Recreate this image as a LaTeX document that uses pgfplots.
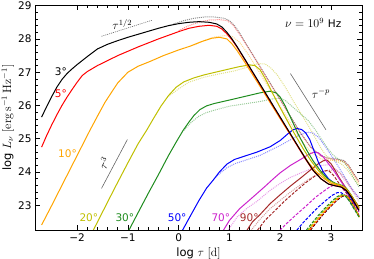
\documentclass[border=0pt]{standalone}
\usepackage[no-math]{fontspec}
\setmainfont{DejaVu Sans}
\usepackage{pgfplots}
\pgfplotsset{compat=1.18}
\definecolor{cBlack}{HTML}{000000}
\definecolor{cRed}{HTML}{FF0000}
\definecolor{cOrange}{HTML}{FFA500}
\definecolor{cYellow}{HTML}{BFBF00}
\definecolor{cGreen}{HTML}{1E8C1E}
\definecolor{cBlue}{HTML}{0000FF}
\definecolor{cMag}{HTML}{CC22CC}
\definecolor{cBrown}{HTML}{A52A2A}
\definecolor{cGray}{HTML}{666666}
\pgfplotsset{
  sol/.style={line width=1pt, #1},
  dot/.style={line width=1pt, #1, opacity=0.45, dash pattern=on 1pt off 1pt},
  dsh/.style={line width=1pt, #1, dash pattern=on 3pt off 1.5pt},
}
\begin{document}
\begin{tikzpicture}
\begin{axis}[
  scale only axis, width=327pt, height=225pt,
  xmin=-2.83, xmax=3.61, ymin=22.26, ymax=29.02,
  xtick={-2,-1,0,1,2,3}, xticklabels={−2,−1,0,1,2,3},
  ytick={23,24,25,26,27,28,29}, yticklabels={23,24,25,26,27,28,29},
  minor x tick num=4, minor y tick num=4,
  tick align=inside, major tick length=5pt, minor tick length=3pt,
  tick style={black, line width=0.6pt},
  axis line style={black, line width=0.8pt},
  ticklabel style={font=\fontsize{10.5}{12}\selectfont},
  label style={font=\fontsize{11.5}{13}\selectfont},
  xlabel={log $\tau$ $[\mathrm{d}]$},
  ylabel={log $L_\nu$ $[\mathrm{erg\,s^{-1}\,Hz^{-1}}]$},
  xlabel style={at={(axis description cs:0.5,-0.105)}, anchor=center},
  ylabel style={at={(axis description cs:-0.083,0.5)}, anchor=center},
  clip=true,
]
% reference slopes
\addplot[cGray, line width=0.6pt, dash pattern=on 1pt off 1pt] coordinates {(-1.52,28.08) (-0.53,28.56)};
\addplot[cGray, line width=0.6pt] coordinates {(-1.52,23.51) (-1.01,24.98)};
\addplot[cGray, line width=0.6pt] coordinates {(2.20,26.96) (2.90,25.27)};

% dotted (light) curves
\addplot[dot=cBlack] coordinates {(-0.1,28.45) (0.1,28.55) (0.3,28.62) (0.5,28.66) (0.7,28.66) (0.9,28.62) (1.0,28.55) (1.1,28.4) (1.2,28.18) (1.3,27.92) (1.45,27.55) (1.8,26.68) (2.1,25.93) (2.4,25.18) (2.6,24.75) (2.8,24.5) (2.95,24.42) (3.1,24.4) (3.25,24.35) (3.35,24.2) (3.45,23.95) (3.55,23.72)};
\addplot[dot=cRed] coordinates {(0.0,28.25) (0.2,28.4) (0.4,28.5) (0.6,28.57) (0.8,28.58) (0.95,28.55) (1.05,28.45) (1.15,28.25) (1.25,28.02) (1.4,27.66) (1.8,26.66) (2.1,25.91) (2.4,25.16) (2.6,24.74) (2.8,24.48) (2.95,24.4) (3.1,24.38) (3.25,24.33) (3.35,24.18) (3.45,23.93) (3.55,23.7)};
\addplot[dot=cOrange] coordinates {(0.3,27.82) (0.5,27.95) (0.7,28.06) (0.9,28.1) (1.05,28.08) (1.2,27.9) (1.35,27.58) (1.5,27.22) (1.8,26.47) (2.1,25.72) (2.4,24.98) (2.6,24.6) (2.8,24.4) (2.95,24.35) (3.1,24.35) (3.25,24.3) (3.35,24.15) (3.45,23.9) (3.55,23.65)};
\addplot[dot=cYellow] coordinates {(-0.2,26.28) (0.0,26.5) (0.2,26.7) (0.5,26.85) (0.8,26.95) (1.1,27.04) (1.35,27.15) (1.55,27.26) (1.7,27.25) (1.82,27.12) (1.95,26.9) (2.1,26.55) (2.25,26.15) (2.4,25.78) (2.55,25.4) (2.7,25.0) (2.8,24.72) (2.9,24.5) (3.0,24.38) (3.1,24.32) (3.2,24.25) (3.3,24.1) (3.4,23.9) (3.5,23.7) (3.55,23.6)};
\addplot[dot=cGreen] coordinates {(0.1,25.25) (0.25,25.5) (0.4,25.68) (0.55,25.79) (0.75,25.88) (1.0,25.98) (1.3,26.05) (1.6,26.12) (1.85,26.2) (2.0,26.22) (2.1,26.15) (2.25,25.95) (2.4,25.75) (2.55,25.55) (2.7,25.25) (2.85,24.9) (2.95,24.68) (3.05,24.5) (3.15,24.38) (3.25,24.3) (3.35,24.1) (3.45,23.8) (3.55,23.55)};
\addplot[dot=cBlue] coordinates {(0.7,23.8) (0.8,23.95) (0.95,24.13) (1.1,24.25) (1.3,24.35) (1.6,24.5) (1.8,24.65) (2.0,24.8) (2.2,24.97) (2.4,25.13) (2.55,25.2) (2.65,25.17) (2.75,25.05) (2.85,24.85) (2.95,24.62) (3.05,24.4) (3.15,24.15) (3.25,23.9) (3.35,23.65) (3.45,23.42) (3.55,23.22)};
\addplot[dot=cMag] coordinates {(0.95,22.2) (1.15,22.65) (1.35,22.92) (1.54,23.12) (1.8,23.45) (2.0,23.66) (2.2,23.84) (2.4,23.97) (2.6,24.1) (2.8,24.2) (2.95,24.22) (3.05,24.15) (3.15,24.0) (3.25,23.8) (3.35,23.6) (3.45,23.4) (3.55,23.25)};
\addplot[dot=cBrown] coordinates {(1.4,22.2) (1.6,22.58) (1.8,22.9) (2.0,23.15) (2.2,23.4) (2.4,23.62) (2.6,23.82) (2.8,23.98) (2.95,24.06) (3.1,24.06) (3.2,23.95) (3.3,23.75) (3.4,23.5) (3.5,23.25) (3.55,23.12)};

% dashed curves
\addplot[dsh=cMag] coordinates {(1.93,22.15) (2.1,22.42) (2.3,22.7) (2.5,22.97) (2.7,23.25) (2.85,23.42) (2.98,23.56) (3.08,23.62) (3.18,23.58) (3.28,23.42) (3.4,23.15) (3.5,22.92) (3.55,22.8)};
\addplot[dsh=cBlue] coordinates {(2.27,22.15) (2.45,22.48) (2.6,22.72) (2.75,22.95) (2.9,23.15) (3.02,23.3) (3.12,23.38) (3.2,23.38) (3.28,23.3) (3.38,23.1) (3.47,22.88) (3.55,22.7)};
\addplot[dsh=cBlack] coordinates {(2.54,22.15) (2.68,22.42) (2.83,22.7) (2.98,22.95) (3.1,23.13) (3.2,23.25) (3.27,23.3) (3.33,23.27) (3.4,23.12) (3.48,22.9) (3.56,22.65)};
\addplot[dsh=cRed] coordinates {(2.53,22.15) (2.67,22.42) (2.82,22.7) (2.97,22.95) (3.09,23.13) (3.19,23.26) (3.26,23.31) (3.32,23.28) (3.4,23.13) (3.48,22.9) (3.56,22.65)};
\addplot[dsh=cOrange] coordinates {(2.51,22.15) (2.65,22.42) (2.8,22.7) (2.95,22.95) (3.07,23.13) (3.17,23.26) (3.24,23.31) (3.31,23.28) (3.39,23.13) (3.48,22.9) (3.56,22.65)};
\addplot[dsh=cYellow] coordinates {(2.49,22.15) (2.63,22.42) (2.78,22.7) (2.93,22.95) (3.05,23.13) (3.15,23.26) (3.22,23.31) (3.3,23.28) (3.38,23.13) (3.47,22.9) (3.55,22.65)};
\addplot[dsh=cGreen] coordinates {(2.46,22.15) (2.6,22.42) (2.75,22.7) (2.9,22.95) (3.02,23.13) (3.12,23.26) (3.2,23.32) (3.27,23.3) (3.35,23.15) (3.45,22.9) (3.55,22.65)};
\addplot[dsh=cBrown] coordinates {(1.5,22.15) (1.7,22.55) (1.9,22.85) (2.1,23.15) (2.3,23.42) (2.5,23.68) (2.7,23.9) (2.85,24.03) (2.95,24.05) (3.05,23.9) (3.15,23.68) (3.3,23.38) (3.45,23.1) (3.55,22.9)};

% solid curves
\addplot[sol=cBrown] coordinates {(1.28,22.1) (1.45,22.5) (1.6,22.72) (1.8,23.05) (2.0,23.32) (2.2,23.58) (2.4,23.82) (2.6,24.07) (2.75,24.25) (2.85,24.34) (2.92,24.36) (3.0,24.25) (3.08,24.05) (3.15,23.86) (3.25,23.62) (3.35,23.4) (3.45,23.18) (3.55,22.96)};
\addplot[sol=cMag] coordinates {(0.82,22.1) (1.0,22.55) (1.2,22.9) (1.47,23.26) (1.7,23.57) (1.85,23.78) (2.0,23.98) (2.2,24.2) (2.4,24.38) (2.55,24.52) (2.66,24.6) (2.75,24.58) (2.85,24.45) (2.95,24.25) (3.05,24.05) (3.15,23.82) (3.25,23.6) (3.35,23.4) (3.45,23.15) (3.55,22.9)};
\addplot[sol=cBlue] coordinates {(0.02,22.1) (0.2,22.6) (0.4,23.15) (0.55,23.52) (0.68,23.76) (0.8,24.0) (0.95,24.24) (1.1,24.38) (1.3,24.48) (1.54,24.6) (1.8,24.76) (2.0,24.95) (2.15,25.15) (2.25,25.27) (2.33,25.31) (2.42,25.28) (2.5,25.18) (2.58,24.98) (2.66,24.66) (2.75,24.3) (2.85,24.0) (2.95,23.8) (3.05,23.68) (3.15,23.6) (3.25,23.52) (3.35,23.33) (3.45,23.08) (3.55,22.85)};
\addplot[sol=cGreen] coordinates {(-1.05,22.05) (-0.8,22.78) (-0.6,23.36) (-0.4,23.92) (-0.2,24.5) (-0.05,24.9) (0.09,25.26) (0.2,25.5) (0.3,25.7) (0.42,25.88) (0.55,25.99) (0.7,26.06) (0.9,26.13) (1.1,26.2) (1.35,26.29) (1.6,26.38) (1.8,26.43) (1.92,26.38) (2.0,26.25) (2.1,25.98) (2.2,25.65) (2.35,25.15) (2.52,24.66) (2.65,24.33) (2.8,24.02) (2.95,23.77) (3.1,23.65) (3.22,23.6) (3.32,23.48) (3.42,23.25) (3.5,23.05) (3.55,22.92)};
\addplot[sol=cYellow] coordinates {(-1.75,22.05) (-1.5,22.8) (-1.25,23.55) (-1.0,24.28) (-0.8,24.85) (-0.63,25.26) (-0.5,25.6) (-0.35,25.98) (-0.2,26.3) (-0.05,26.55) (0.1,26.71) (0.3,26.83) (0.5,26.92) (0.75,27.01) (1.0,27.1) (1.2,27.17) (1.4,27.22) (1.5,27.2) (1.6,27.08) (1.7,26.82) (1.8,26.52) (1.9,26.22) (2.0,25.93) (2.1,25.65) (2.2,25.37) (2.3,25.1) (2.46,24.68) (2.6,24.35) (2.75,24.05) (2.9,23.8) (3.05,23.67) (3.2,23.6) (3.3,23.5) (3.4,23.3) (3.5,23.05) (3.55,22.92)};
\addplot[sol=cOrange] coordinates {(-2.7,22.41) (-2.5,23.0) (-2.3,23.6) (-2.1,24.2) (-1.9,24.8) (-1.75,25.25) (-1.6,25.68) (-1.45,26.1) (-1.3,26.45) (-1.2,26.68) (-1.0,27.0) (-0.8,27.18) (-0.57,27.32) (-0.3,27.5) (0,27.67) (0.22,27.78) (0.45,27.92) (0.65,28.02) (0.8,28.05) (0.95,28.0) (1.05,27.85) (1.15,27.65) (1.3,27.3) (1.6,26.58) (2.0,25.6) (2.12,25.31) (2.4,24.65) (2.55,24.3) (2.7,24.02) (2.85,23.82) (3.0,23.66) (3.15,23.6) (3.25,23.55) (3.35,23.38) (3.45,23.15) (3.55,22.88)};
\addplot[sol=cRed] coordinates {(-2.7,24.75) (-2.6,25.1) (-2.5,25.42) (-2.4,25.72) (-2.3,26.0) (-2.2,26.25) (-2.1,26.48) (-2.0,26.7) (-1.9,26.9) (-1.8,27.02) (-1.6,27.2) (-1.4,27.35) (-1.2,27.5) (-1.0,27.63) (-0.8,27.76) (-0.6,27.88) (-0.4,28.0) (-0.2,28.11) (0,28.22) (0.2,28.32) (0.4,28.38) (0.6,28.41) (0.75,28.38) (0.85,28.3) (0.95,28.15) (1.05,27.97) (1.15,27.75) (1.3,27.38) (1.6,26.63) (2.0,25.63) (2.36,24.73) (2.5,24.38) (2.65,24.04) (2.8,23.8) (2.95,23.64) (3.1,23.58) (3.2,23.55) (3.3,23.45) (3.4,23.25) (3.5,22.98) (3.55,22.85)};
\addplot[sol=cBlack] coordinates {(-2.7,25.65) (-2.6,25.97) (-2.5,26.27) (-2.4,26.55) (-2.3,26.78) (-2.2,26.96) (-2.1,27.1) (-2.0,27.23) (-1.8,27.47) (-1.6,27.7) (-1.4,27.84) (-1.2,27.95) (-1.0,28.05) (-0.8,28.14) (-0.6,28.23) (-0.4,28.32) (-0.2,28.4) (0,28.46) (0.2,28.5) (0.4,28.52) (0.6,28.5) (0.75,28.45) (0.85,28.36) (0.95,28.2) (1.05,28.0) (1.15,27.77) (1.3,27.4) (1.6,26.65) (2.0,25.65) (2.36,24.75) (2.5,24.4) (2.65,24.05) (2.8,23.8) (2.95,23.64) (3.1,23.58) (3.2,23.55) (3.3,23.45) (3.4,23.25) (3.5,22.98) (3.55,22.85)};

% labels
\begin{scope}[font=\fontsize{10.5}{12}\selectfont]
\node[cBlack] at (axis cs:-2.32,27.01) {3°};
\node[cRed] at (axis cs:-2.32,26.37) {5°};
\node[cOrange] at (axis cs:-2.19,24.54) {10°};
\node[cYellow] at (axis cs:-1.77,22.63) {20°};
\node[cGreen] at (axis cs:-1.06,22.63) {30°};
\node[cBlue] at (axis cs:-0.03,22.63) {50°};
\node[cMag] at (axis cs:0.83,22.63) {70°};
\node[cBrown] at (axis cs:1.39,22.63) {90°};
\end{scope}
\begin{scope}[font=\fontsize{12}{14}\selectfont]
\node at (axis cs:-1.11,28.44) {$\tau^{1/2}$};
\node[rotate=62] at (axis cs:-1.47,24.26) {$\tau^{3}$};
\node at (axis cs:2.80,26.36) {$\tau^{-p}$};
\node at (axis cs:2.65,28.48) {$\nu=10^9$ \fontsize{10.5}{12}\selectfont Hz};
\end{scope}
\end{axis}
\pgfresetboundingbox
\path ([xshift=-35pt,yshift=-29pt]current axis.south west) rectangle ([xshift=12pt,yshift=5pt]current axis.north east);
\end{tikzpicture}
\end{document}
